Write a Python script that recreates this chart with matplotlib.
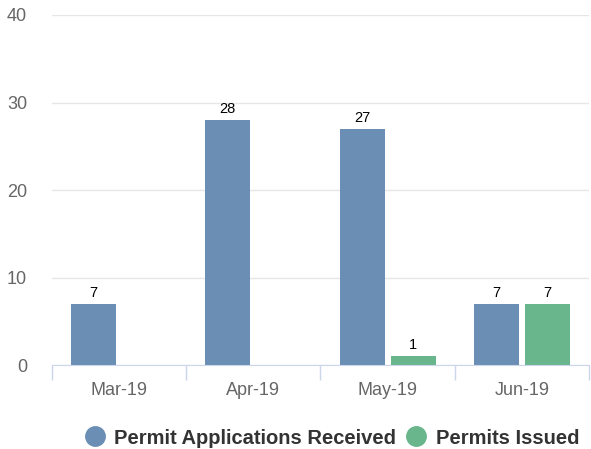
import matplotlib.pyplot as plt
from matplotlib.lines import Line2D
import numpy as np

# Data
months = ["Mar-19", "Apr-19", "May-19", "Jun-19"]
received = [7, 28, 27, 7]
issued = [0, 0, 1, 7]

blue = "#6b8eb4"
green = "#69b58c"

plt.rcParams['font.family'] = ['Liberation Sans', 'DejaVu Sans']

fig = plt.figure(figsize=(5.91, 4.49), dpi=100)
ax = fig.add_axes([0.088, 0.187, 0.9086, 0.7796])

x = np.arange(len(months))
w = 0.335
off = 0.19

b1 = ax.bar(x - off, received, width=w, color=blue, zorder=3)
b2 = ax.bar(x + off, issued, width=w, color=green, zorder=3)

# data labels (skip zero values)
for bars, vals in [(b1, received), (b2, issued)]:
    for bar, v in zip(bars, vals):
        if v == 0:
            continue
        ax.annotate(str(v), (bar.get_x() + bar.get_width() / 2, v),
                    xytext=(0, 3), textcoords='offset points',
                    ha='center', va='bottom', fontsize=10.5, color='black')

ax.set_ylim(0, 40)
ax.set_xlim(-0.5, 3.5)
ax.set_yticks([0, 10, 20, 30, 40])
ax.grid(axis='y', color='#e6e6e6', linewidth=1, zorder=0)
ax.tick_params(axis='y', length=0, pad=18, labelsize=13, labelcolor='#666666')

ax.set_xticks(x)
ax.set_xticklabels(months)
ax.tick_params(axis='x', which='major', length=0, pad=12, labelsize=13, labelcolor='#666666')
ax.set_xticks(np.arange(-0.5, 4, 1), minor=True)
ax.tick_params(axis='x', which='minor', length=11, width=1, color='#ccd6eb')

for s in ['top', 'right', 'left']:
    ax.spines[s].set_visible(False)
ax.spines['bottom'].set_color('#ccd6eb')
ax.spines['bottom'].set_zorder(4)

handles = [Line2D([], [], marker='o', linestyle='', markersize=14, color=blue),
           Line2D([], [], marker='o', linestyle='', markersize=14, color=green)]
fig.legend(handles, ["Permit Applications Received", "Permits Issued"],
           loc='center', bbox_to_anchor=(0.56, 1 - 438 / 449), ncol=2, frameon=False,
           prop={'weight': 'bold', 'size': 14.5}, labelcolor='#333333',
           handletextpad=0.37, columnspacing=0.37, handlelength=1.2)

fig.savefig("out.png", dpi=100)
